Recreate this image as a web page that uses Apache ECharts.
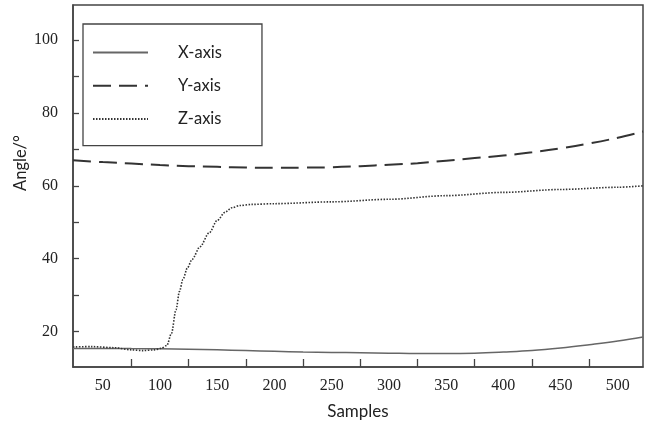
<!DOCTYPE html>
<html>
<head>
<meta charset="utf-8">
<script src="https://cdn.jsdelivr.net/npm/echarts@6/dist/echarts.min.js"></script>
<style>
html,body{margin:0;padding:0;background:#fff;}
#chart{width:650px;height:424px;}
</style>
</head>
<body>
<div id="chart"></div>
<script>
// Samples and angle values
const seriesNames = ['X-axis', 'Y-axis', 'Z-axis'];
const xSamples = [24, 50, 75, 100, 125, 150, 175, 200, 225, 250, 275, 300, 325, 350, 375, 400, 425, 450, 475, 500, 522];
const xAngle   = [15.4, 15.4, 15.35, 15.3, 15.2, 15.0, 14.8, 14.6, 14.4, 14.3, 14.2, 14.1, 14.0, 14.0, 14.1, 14.4, 14.8, 15.5, 16.4, 17.4, 18.5];
const ySamples = [24, 50, 75, 100, 125, 150, 175, 200, 225, 250, 275, 300, 325, 350, 375, 400, 425, 450, 475, 500, 522];
const yAngle   = [67.0, 66.5, 66.1, 65.7, 65.4, 65.2, 65.0, 64.95, 65.0, 65.1, 65.4, 65.8, 66.2, 66.9, 67.6, 68.3, 69.2, 70.3, 71.6, 73.2, 74.9];
const zSamples = [24, 40, 60, 75, 85, 95, 101, 106, 110, 114, 117, 120, 124, 128, 135, 143, 150, 157, 163, 170, 180, 200, 250, 300, 350, 400, 450, 500, 522];
const zAngle   = [15.8, 15.9, 15.6, 15.0, 14.8, 15.0, 15.4, 16.2, 19.5, 26.0, 31.0, 34.3, 37.5, 39.8, 43.3, 47.1, 50.5, 52.8, 54.0, 54.6, 54.9, 55.1, 55.6, 56.3, 57.3, 58.2, 59.0, 59.6, 60.0];
// Tick labels and tick marks
const xTickLabels = [50, 100, 150, 200, 250, 300, 350, 400, 450, 500];
const xTickMarks  = [75, 125, 175, 225, 275, 325, 375, 425, 475];
const yTickLabels = [20, 40, 60, 80, 100];
const yTickMarks  = [20, 30, 40, 50, 60, 70, 80, 90, 100];

function pairs(xs, ys) { return xs.map((x, i) => [x, ys[i]]); }

const FONT = 'Lato, "Open Sans", sans-serif';
const NUMFONT = '"Liberation Serif", "DejaVu Serif", serif';
const chart = echarts.init(document.getElementById('chart'), null, {renderer: 'canvas'});
chart.setOption({
  animation: false,
  backgroundColor: '#fff',
  textStyle: {fontFamily: FONT},
  grid: {left: 73, right: 7, top: 5, bottom: 57, show: true, borderColor: '#444', borderWidth: 1.5, containLabel: false, outerBoundsMode: 'none'},
  legend: {
    orient: 'vertical', left: 83, top: 24,
    padding: [20, 40, 18, 9],
    borderColor: '#444', borderWidth: 1.3,
    itemWidth: 55, itemHeight: 14, itemGap: 16.3,
    itemStyle: {opacity: 0},
    textStyle: {fontFamily: FONT, fontSize: 16.5, color: '#222', padding: [0, 0, 0, 25]},
    data: seriesNames
  },
  xAxis: {
    type: 'value', min: 24, max: 522,
    name: 'Samples', nameLocation: 'middle', nameGap: 36, nameMoveOverlap: false,
    nameTextStyle: {fontFamily: FONT, fontSize: 17, color: '#222'},
    axisLine: {show: true, lineStyle: {color: '#444', width: 1.5}},
    axisTick: {show: true, inside: true, length: 8, customValues: xTickMarks, lineStyle: {color: '#444', width: 1.3}},
    splitLine: {show: false},
    axisLabel: {margin: 11, fontSize: 16, color: '#222', fontFamily: NUMFONT, customValues: xTickLabels}
  },
  yAxis: {
    type: 'value', min: 10.3, max: 109.6,
    name: 'Angle/°', nameLocation: 'middle', nameGap: 44, nameMoveOverlap: false,
    nameTextStyle: {fontFamily: FONT, fontSize: 16.5, color: '#222', padding: [0, 0, 0, 46]},
    axisLine: {show: true, lineStyle: {color: '#444', width: 1.5}},
    axisTick: {show: true, inside: true, length: 6, customValues: yTickMarks, lineStyle: {color: '#444', width: 1.3}},
    splitLine: {show: false},
    axisLabel: {margin: 15, fontSize: 16, color: '#222', fontFamily: NUMFONT, customValues: yTickLabels}
  },
  series: [{
    name: seriesNames[0], type: 'line', data: pairs(xSamples, xAngle),
    symbol: 'none', smooth: 0.4,
    lineStyle: {color: '#666', width: 1.5, type: 'solid'}, itemStyle: {color: '#666'}
  }, {
    name: seriesNames[1], type: 'line', data: pairs(ySamples, yAngle),
    symbol: 'none', smooth: 0.4,
    lineStyle: {color: '#333', width: 2, type: [18, 8]}, itemStyle: {color: '#333'}
  }, {
    name: seriesNames[2], type: 'line', data: pairs(zSamples, zAngle),
    symbol: 'none', smooth: 0.3, smoothMonotone: 'x',
    lineStyle: {color: '#333', width: 1.6, type: [1.5, 1.5]}, itemStyle: {color: '#333'}
  }]
});
</script>
</body>
</html>
